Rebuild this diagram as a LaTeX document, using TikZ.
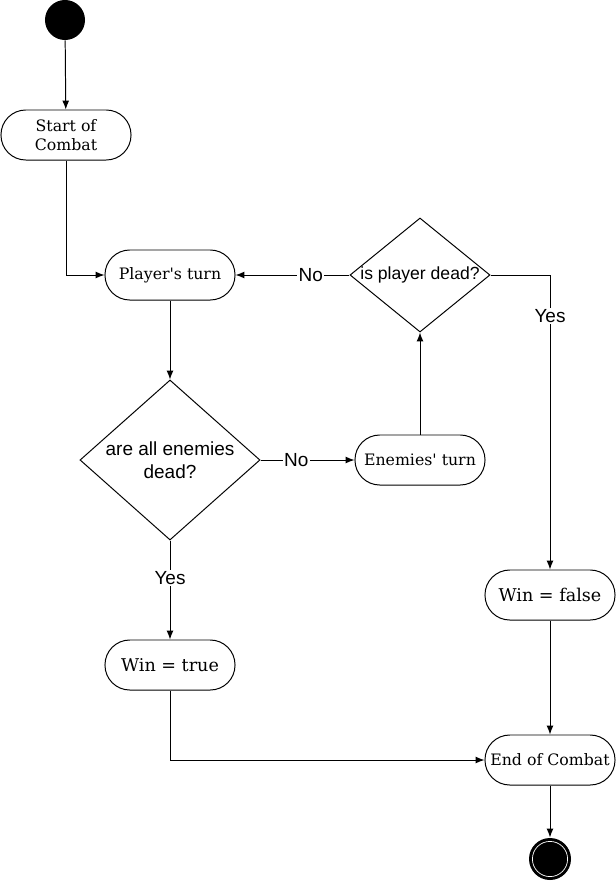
\documentclass[tikz,border=0pt]{standalone}
\usepackage{fontspec}
\setmainfont{DejaVu Serif}
\newfontfamily\diafont{Liberation Sans}
\usetikzlibrary{shapes.geometric,arrows.meta}

\begin{document}
\begin{tikzpicture}[x=0.025cm,y=-0.025cm,line width=0.7pt,
  state/.style={draw,rectangle,rounded corners=0.62cm,minimum width=3.25cm,minimum height=1.25cm,align=center,font=\fontsize{11.2}{14}\selectfont},
  choice/.style={draw,diamond,inner sep=-4pt,align=center,font=\diafont\fontsize{13.5}{16}\selectfont},
  arr/.style={-{Latex[length=2.2mm,width=1.7mm]}},
  lbl/.style={fill=white,inner sep=1pt,font=\diafont\fontsize{13.5}{16}\selectfont}]
\useasboundingbox (0,0) rectangle (616,881);
% states and decisions
\node[circle,fill,minimum size=1cm,inner sep=0pt] (start) at (65,20) {};
\node[state] (begin) at (66,135) {Start of\\Combat};
\node[state] (player) at (170,275) {Player\textquotesingle s turn};
\node[choice,minimum width=4.5cm,minimum height=4cm] (alldead) at (170,460) {are all enemies\\dead?};
\node[state] (enemies) at (420,460) {Enemies\textquotesingle\ turn};
\node[choice,inner sep=-8pt,minimum width=3.5cm,minimum height=2.85cm,font=\diafont\fontsize{12.5}{15}\selectfont] (pdead) at (420,275) {is player dead?};
\node[state,font=\fontsize{12.5}{15}\selectfont] (wintrue) at (170,665) {Win = true};
\node[state,font=\fontsize{12.5}{15}\selectfont] (winfalse) at (550,595) {Win = false};
\node[state] (finish) at (550,760) {End of Combat};
\node[circle,fill,minimum size=1.05cm,inner sep=0pt] (stop) at (550,859) {};
\draw[white,line width=0.5pt] (stop.center) circle[radius=0.44cm];
% flow
\draw[arr] (start) -- (begin);
\draw[arr] (begin.south) |- (player.west);
\draw[arr] (player) -- (alldead);
\draw[arr] (alldead) -- node[lbl,pos=0.38]{No} (enemies);
\draw[arr] (enemies) -- (pdead);
\draw[arr] (pdead) -- node[lbl,pos=0.34]{No} (player);
\draw[arr] (pdead.east) -| node[lbl,pos=0.57]{Yes} (winfalse);
\draw[arr] (alldead) -- node[lbl,pos=0.38]{Yes} (wintrue);
\draw[arr] (wintrue) |- (finish);
\draw[arr] (winfalse) -- (finish);
\draw[arr] (finish) -- (stop);
\end{tikzpicture}
\end{document}
